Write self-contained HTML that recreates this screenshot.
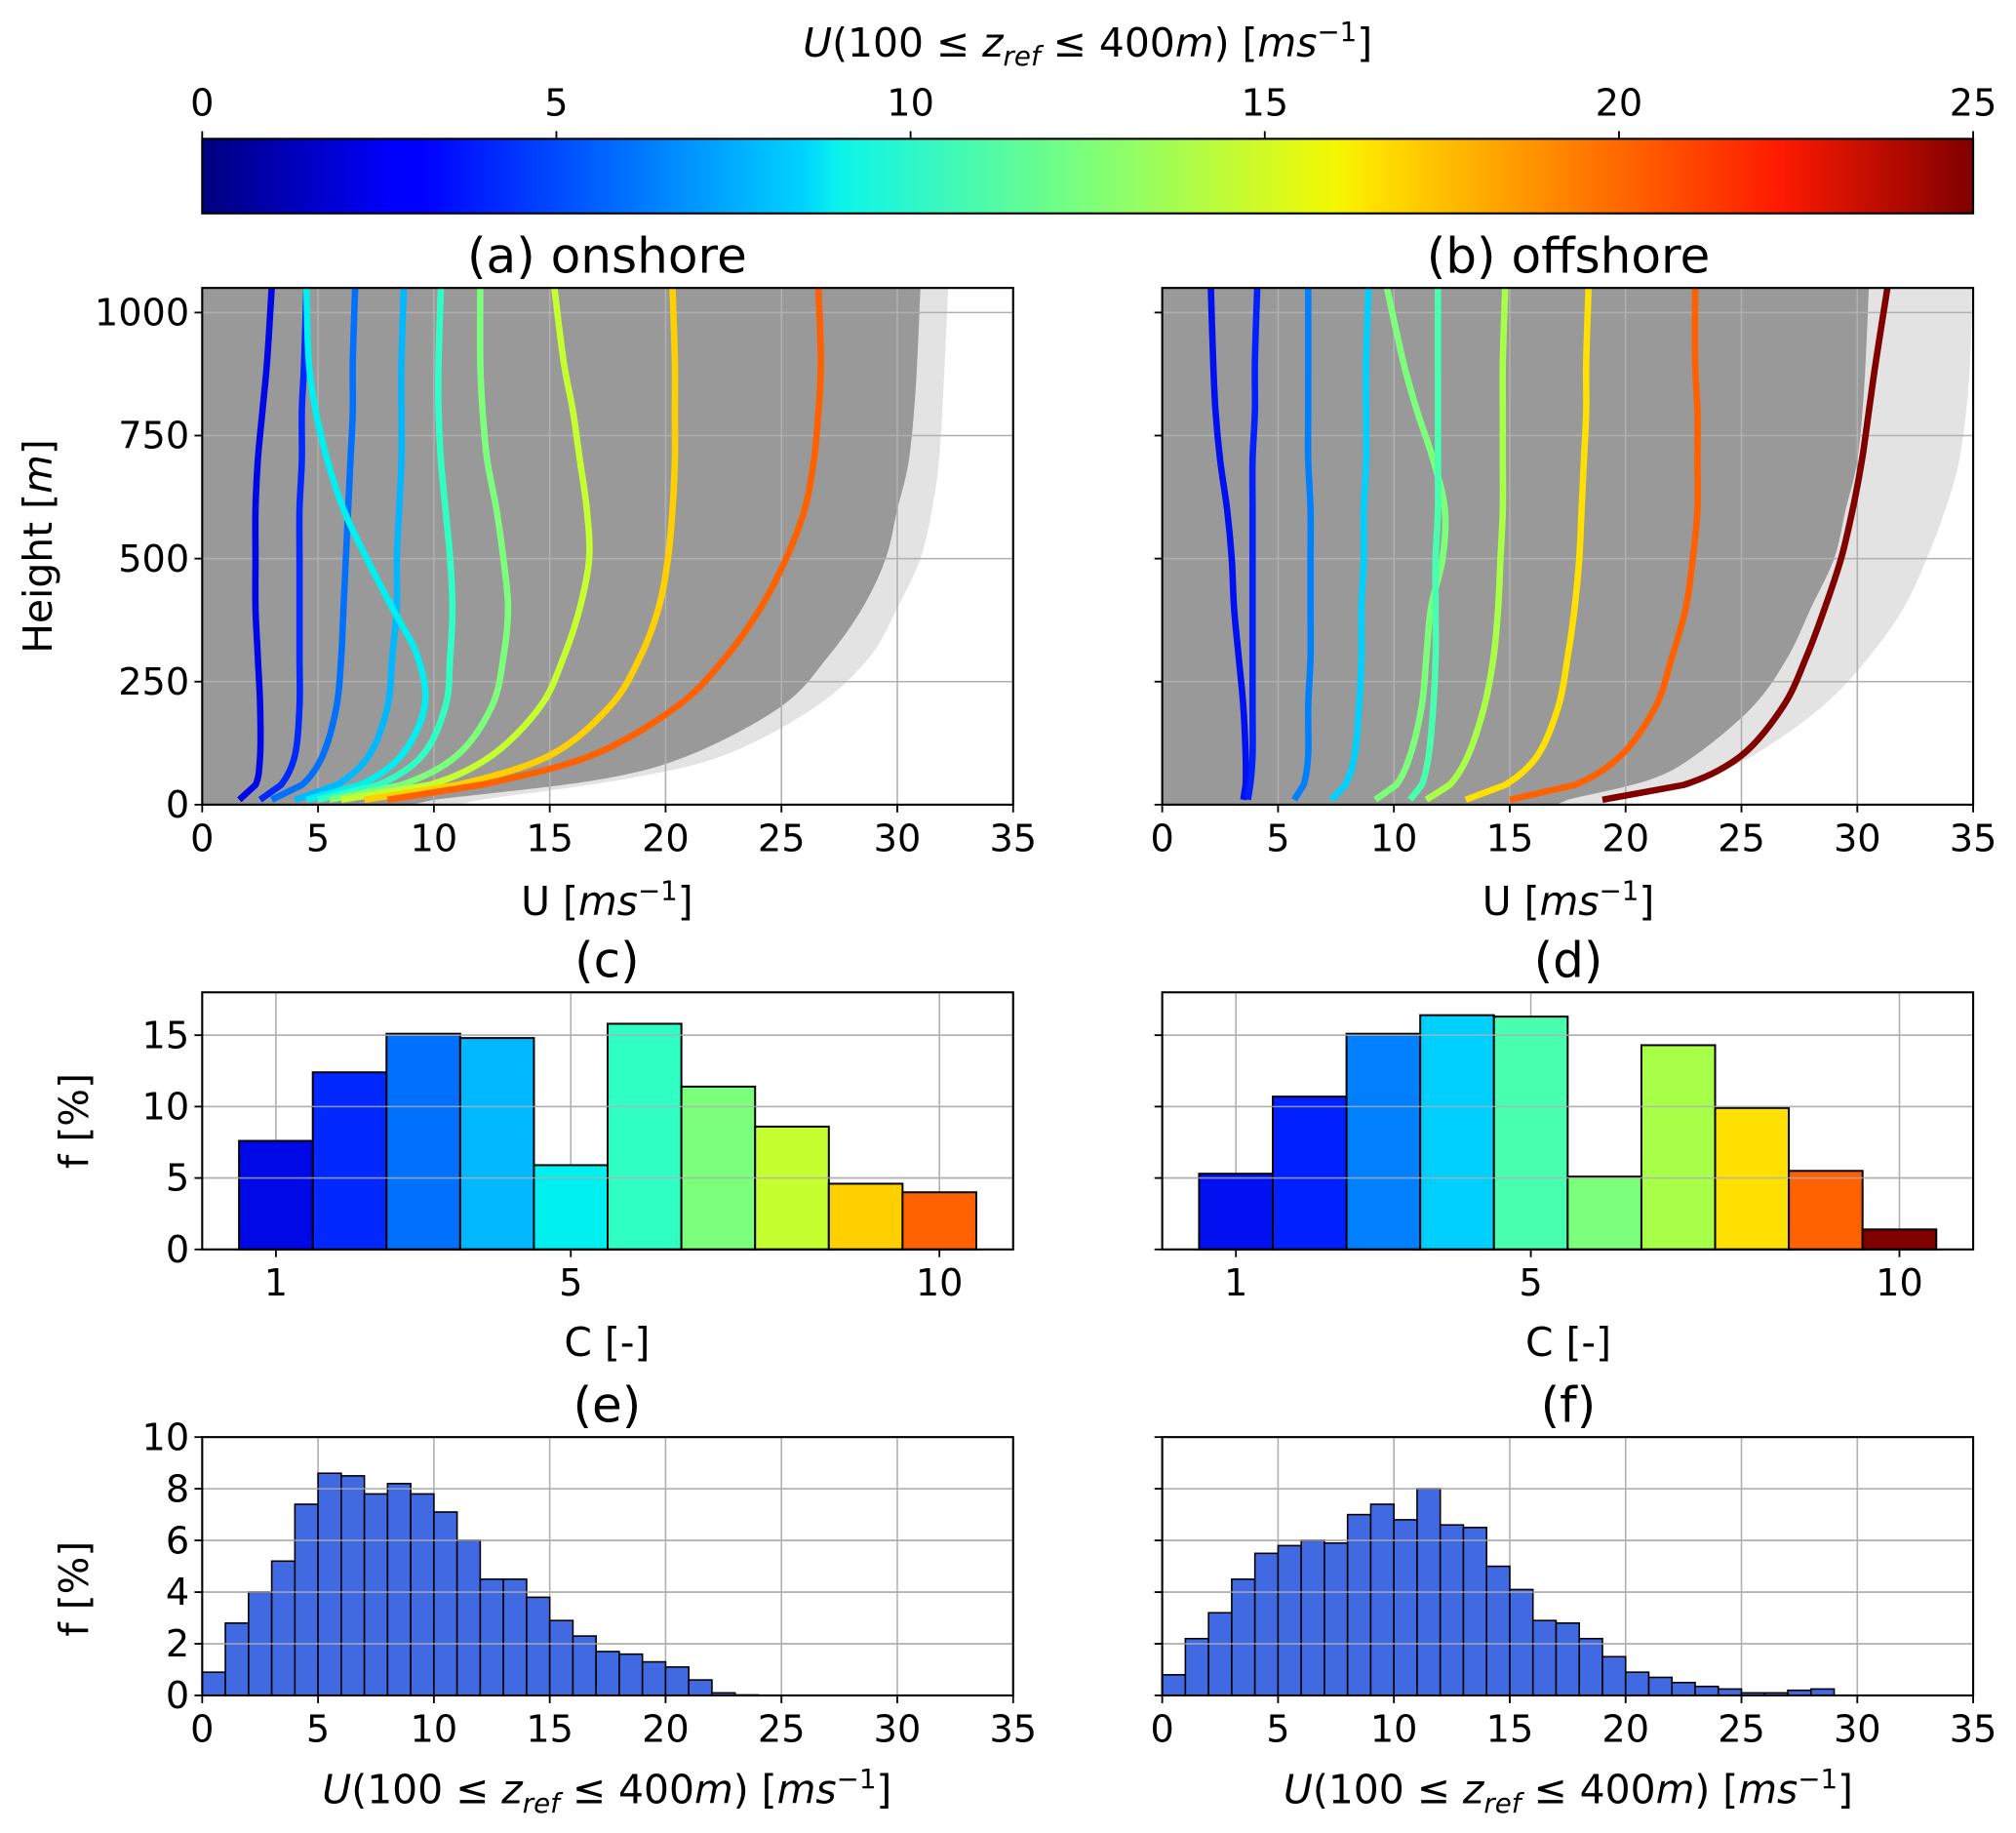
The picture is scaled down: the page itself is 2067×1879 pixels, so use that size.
<!DOCTYPE html>
<html><head><meta charset="utf-8">
<style>
html,body{margin:0;padding:0;background:#fff;}
svg{display:block;font-family:"DejaVu Sans","Liberation Sans",sans-serif;}
</style></head>
<body>
<svg id="fig" width="2067" height="1879" viewBox="0 0 1568 1426" xmlns="http://www.w3.org/2000/svg">
<defs>
<linearGradient id="jet" x1="0" x2="1" y1="0" y2="0">
<stop offset="0" stop-color="#00007f"/><stop offset="0.11" stop-color="#0000ff"/><stop offset="0.125" stop-color="#0000ff"/>
<stop offset="0.34" stop-color="#00d4ff"/><stop offset="0.36" stop-color="#0cf4eb"/><stop offset="0.5" stop-color="#7dff7a"/>
<stop offset="0.64" stop-color="#f4f802"/><stop offset="0.66" stop-color="#ffe200"/><stop offset="0.89" stop-color="#ff1a00"/><stop offset="1" stop-color="#7f0000"/>
</linearGradient>
<clipPath id="clipA"><rect x="157" y="224" width="631" height="402"/></clipPath>
<clipPath id="clipB"><rect x="904" y="224" width="631" height="402"/></clipPath>
</defs>
<g id="root"></g>
</svg>
<script>
// ---------- data ----------
const cbTicks = [0,5,10,15,20,25];
const profHeights = [10,40,100,200,300,400,500,600,700,800,900,1050];
const onshoreProfiles = [
 [1.6,2.3,2.5,2.5,2.4,2.3,2.3,2.3,2.4,2.6,2.8,3.0],
 [2.5,3.4,4.0,4.2,4.2,4.2,4.2,4.2,4.3,4.3,4.4,4.5],
 [3.0,4.3,5.2,5.8,6.0,6.1,6.2,6.3,6.4,6.5,6.5,6.6],
 [4.0,5.8,7.2,8.0,8.2,8.4,8.4,8.5,8.6,8.6,8.6,8.7],
 [4.5,6.8,8.6,9.6,9.3,8.2,7.1,6.1,5.4,4.9,4.6,4.5],
 [5.0,7.6,9.5,10.5,10.7,10.8,10.7,10.5,10.3,10.2,10.2,10.3],
 [5.5,8.6,11.0,12.5,13.0,13.2,13.0,12.7,12.3,12.1,12.0,12.0],
 [6.0,9.8,12.5,14.6,15.6,16.3,16.7,16.6,16.3,16.0,15.6,15.2],
 [7.0,11.0,15.0,17.6,18.9,19.7,20.1,20.3,20.4,20.4,20.4,20.3],
 [8.0,12.0,16.8,20.5,22.6,24.1,25.2,26.0,26.4,26.6,26.7,26.6]];
const onshoreLineColors = ["#0008e6","#0028ff","#0070ff","#00b8ff","#00f0f0","#30ffc4","#7cff7a","#c6ff30","#ffd000","#ff6000"];
const offshoreProfiles = [
 [3.5,3.6,3.6,3.5,3.3,3.1,3.0,2.8,2.5,2.3,2.2,2.1],
 [3.7,3.8,3.9,3.9,3.9,3.9,3.9,3.9,3.9,4.0,4.0,4.1],
 [5.7,6.1,6.3,6.3,6.4,6.4,6.4,6.4,6.3,6.3,6.3,6.3],
 [7.3,7.9,8.3,8.5,8.6,8.6,8.7,8.7,8.8,8.8,8.8,8.9],
 [9.2,10.1,10.7,11.2,11.4,11.6,12.1,12.2,11.7,11.0,10.4,9.7],
 [10.7,11.2,11.5,11.7,11.8,11.8,11.8,11.9,11.9,11.9,11.9,11.9],
 [11.4,12.4,13.2,13.9,14.3,14.5,14.6,14.7,14.7,14.7,14.7,14.8],
 [13.1,14.8,16.2,17.1,17.5,17.8,18.0,18.1,18.2,18.3,18.3,18.4],
 [15.0,17.8,19.8,21.3,22.0,22.6,22.9,23.1,23.1,23.1,23.0,23.0],
 [19.0,22.5,25.0,26.8,27.8,28.6,29.3,29.8,30.2,30.5,30.8,31.3]];
const offshoreLineColors = ["#0010f0","#0020ff","#0080ff","#00d0ff","#7cff7a","#48ffb0","#a8ff48","#ffe000","#ff6000","#800000"];
const envHeights = [0,10,50,100,200,300,400,500,600,700,850,1050];
const onshoreEnvRight = [9,10,17,21,25,27,28.5,29.5,30,30.5,30.8,31];
const onshoreFringe = [11,12,18,22.5,26.5,28.8,30,31,31.5,31.8,32,32.2];
const offshoreEnvRight = [17,17.5,21,23,25.5,27,28,29,29.5,30,30.3,30.5];
const offshoreFringe = [19,19.5,23,25.5,28.5,30.5,32,33,33.8,34.4,34.8,35];
const cCats = [1,2,3,4,5,6,7,8,9,10];
const cOnshore = [7.6,12.4,15.1,14.8,5.9,15.8,11.4,8.6,4.6,4.0];
const cOnshoreColors = ["#0008e6","#0028ff","#0070ff","#00b8ff","#00f0f0","#30ffc4","#7cff7a","#c6ff30","#ffd000","#ff6000"];
const cOffshore = [5.3,10.7,15.1,16.4,16.3,5.1,14.3,9.9,5.5,1.4];
const cOffshoreColors = ["#0010f0","#0020ff","#0080ff","#00d0ff","#48ffb0","#7cff7a","#a8ff48","#ffe000","#ff6000","#800000"];
const uOnshore = [0.9,2.8,4.0,5.2,7.4,8.6,8.5,7.8,8.2,7.8,7.1,6.0,4.5,4.5,3.8,2.9,2.3,1.7,1.6,1.3,1.1,0.6,0.1,0.02,0,0,0,0,0,0,0,0,0,0,0];
const uOffshore = [0.8,2.2,3.2,4.5,5.5,5.8,6.0,5.9,7.0,7.4,6.8,8.0,6.6,6.5,5.0,4.1,2.9,2.8,2.2,1.5,0.9,0.7,0.5,0.35,0.25,0.1,0.1,0.2,0.25,0,0,0,0,0,0];
const uTicks = [0,5,10,15,20,25,30,35];
const hTicks = [0,250,500,750,1000];
const cTicks = [1,5,10];
const fTicksC = [0,5,10,15];
const fTicksU = [0,2,4,6,8,10];

// ---------- helpers ----------
const NS="http://www.w3.org/2000/svg";
const root=document.getElementById('root');
function el(tag,attrs,parent,text){const e=document.createElementNS(NS,tag);for(const k in attrs)e.setAttribute(k,attrs[k]);if(text!==undefined)e.textContent=text;(parent||root).appendChild(e);return e;}
function scale(d0,d1,r0,r1){return v=>r0+(v-d0)/(d1-d0)*(r1-r0);}
function smoothPath(P){ // catmull-rom; first segment straight
 let d=`M${P[0][0]},${P[0][1]} L${P[1][0]},${P[1][1]}`;
 for(let i=1;i<P.length-1;i++){
  const p0=P[i-1],p1=P[i],p2=P[i+1],p3=P[Math.min(i+2,P.length-1)];
  const c1=[p1[0]+(p2[0]-p0[0])/6,p1[1]+(p2[1]-p0[1])/6];
  const c2=[p2[0]-(p3[0]-p1[0])/6,p2[1]-(p3[1]-p1[1])/6];
  d+=` C${c1[0]},${c1[1]} ${c2[0]},${c2[1]} ${p2[0]},${p2[1]}`;
 }
 return d;
}
const TF=29;

function axesFrame(x0,y0,w,h){
 const r=el('rect',{x:x0,y:y0,width:w,height:h,fill:'none',stroke:'#000','stroke-width':1.6});
 
 
}
function grid(g,sx,sy,xt,yt,x0,y0,w,h){
 xt.forEach(v=>{el('line',{x1:sx(v),x2:sx(v),y1:y0,y2:y0+h,stroke:'#b0b0b0','stroke-width':1.2},g);});
 yt.forEach(v=>{el('line',{x1:x0,x2:x0+w,y1:sy(v),y2:sy(v),stroke:'#b0b0b0','stroke-width':1.2},g);});
}
function xTicks(sx,ticks,y,name){
 ticks.forEach(v=>{el('line',{x1:sx(v),x2:sx(v),y1:y,y2:y+6,stroke:'#000','stroke-width':1.4});
  const t=el('text',{x:sx(v),y:y+36,'text-anchor':'middle','font-size':TF},root,String(v));
  
  });
}
function yTicks(sy,ticks,x,name,labels){
 ticks.forEach(v=>{el('line',{x1:x-6,x2:x,y1:sy(v),y2:sy(v),stroke:'#000','stroke-width':1.4});
  if(labels){const t=el('text',{x:x-10,y:sy(v)+10,'text-anchor':'end','font-size':TF},root,String(v));
  
  }});
}
function title(x,y,txt,name){const t=el('text',{x:x,y:y,'text-anchor':'middle','font-size':38},root,txt);
 
 return t;}
function uLabel(x,y,name){
 const t=el('text',{x:x,y:y,'text-anchor':'middle','font-size':31},root);
 t.innerHTML='U [<tspan font-style="italic">ms</tspan><tspan dy="-12" font-size="21">−1</tspan><tspan dy="12">]</tspan>';
 
 }
function zLabel(x,y,name,big){
 const t=el('text',{x:x,y:y,'text-anchor':'middle','font-size':31},root);
 t.innerHTML='<tspan font-style="italic">U</tspan>(100 ≤ <tspan font-style="italic">z</tspan><tspan font-style="italic" font-size="21" dy="7">ref</tspan><tspan dy="-7"> ≤ 400</tspan><tspan font-style="italic">m</tspan>)'+(big?'  ':' ')+'[<tspan font-style="italic">ms</tspan><tspan dy="-12" font-size="21">−1</tspan><tspan dy="12">]</tspan>';
 
 }

// ---------- colorbar ----------
const cbx=scale(0,25,157,1535);
const cbRect=el('rect',{x:157,y:108,width:1378,height:58,fill:'url(#jet)',stroke:'#000','stroke-width':1.6});


cbTicks.forEach(v=>{el('line',{x1:cbx(v),x2:cbx(v),y1:102,y2:108,stroke:'#000','stroke-width':1.4});
 const t=el('text',{x:cbx(v),y:90,'text-anchor':'middle','font-size':TF},root,String(v));
 
 });
zLabel(846,44,'colorbar-title',false);

// ---------- profile panels ----------
function profilePanel(x0,profiles,colors,envR,fringe,clip,letter,showY){
 const y0=224,w=631,h=402;
 const sx=scale(0,35,x0,x0+w), sy=scale(0,1050,y0+h,y0);
 const g=el('g',{'clip-path':`url(#${clip})`});
 
 
 let P=envHeights.map((z,i)=>[sx(fringe[i]),sy(z)]);
 const fr=el('path',{d:`M${sx(0)},${sy(1050)} L${sx(0)},${sy(0)} `+smoothPath(P).replace('M','L')+` L${sx(fringe[fringe.length-1])},${sy(1050)} Z`,fill:'#e3e3e3'},g);
 
 
 P=envHeights.map((z,i)=>[sx(envR[i]),sy(z)]);
 const env=el('path',{d:`M${sx(0)},${sy(1050)} L${sx(0)},${sy(0)} `+smoothPath(P).replace('M','L')+` L${sx(envR[envR.length-1])},${sy(1050)} Z`,fill:'#999999'},g);
 
 
 grid(g,sx,sy,uTicks,hTicks,x0,y0,w,h);
 profiles.forEach((p,k)=>{
  const pts=p.map((u,i)=>[sx(u),sy(profHeights[i])]);
  const l=el('path',{d:smoothPath(pts),fill:'none',stroke:colors[k],'stroke-width':5,'stroke-linejoin':'round'},g);
  
  
 });
 axesFrame(x0,y0,w,h);
 xTicks(sx,uTicks,y0+h,letter+'-x');
 yTicks(sy,hTicks,x0,letter+'-y',showY);
}
profilePanel(157,onshoreProfiles,onshoreLineColors,onshoreEnvRight,onshoreFringe,'clipA','a',true);
profilePanel(904,offshoreProfiles,offshoreLineColors,offshoreEnvRight,offshoreFringe,'clipB','b',false);
title(472,212,'(a) onshore','panel-a-title');
title(1220,212,'(b) offshore','panel-b-title');
uLabel(472,712,'panel-a-x-label');
uLabel(1220,712,'panel-b-x-label');
const hl=el('text',{x:0,y:0,'text-anchor':'middle','font-size':31,transform:'translate(40,425) rotate(-90)'},root);
hl.innerHTML='Height [<tspan font-style="italic">m</tspan>]';



// ---------- C histograms ----------
function cPanel(x0,vals,cols,letter,showY){
 const y0=772,w=631,h=200;
 const sx=scale(0,11,x0,x0+w), sy=scale(0,18,y0+h,y0);
 const g=el('g',{});
 
 
 grid(g,sx,sy,cTicks,fTicksC,x0,y0,w,h);
 cCats.forEach((c,i)=>{
  const b=el('rect',{x:sx(c-0.5),y:sy(vals[i]),width:sx(c+0.5)-sx(c-0.5),height:sy(0)-sy(vals[i]),fill:cols[i],stroke:'#000','stroke-width':1.5},g);
  
  
 });
 fTicksC.slice(1).forEach(v=>el('line',{x1:x0,x2:x0+w,y1:sy(v),y2:sy(v),stroke:'#b0b0b0','stroke-width':1.2,opacity:0.8},g));
 axesFrame(x0,y0,w,h);
 xTicks(sx,cTicks,y0+h,letter+'-x');
 yTicks(sy,fTicksC,x0,letter+'-y',showY);
}
cPanel(157,cOnshore,cOnshoreColors,'c',true);
cPanel(904,cOffshore,cOffshoreColors,'d',false);
title(472,760,'(c)','panel-c-title');
title(1220,760,'(d)','panel-d-title');
[[472,'panel-c-x-label'],[1220,'panel-d-x-label']].forEach(a=>{const t=el('text',{x:a[0],y:1055,'text-anchor':'middle','font-size':31,'xml:space':'preserve'},root,'C  [-]');
 
 });

// ---------- U histograms ----------
function uPanel(x0,vals,letter,showY){
 const y0=1118,w=631,h=201;
 const sx=scale(0,35,x0,x0+w), sy=scale(0,10,y0+h,y0);
 const g=el('g',{});
 
 
 grid(g,sx,sy,uTicks,fTicksU,x0,y0,w,h);
 vals.forEach((v,i)=>{
  const b=el('rect',{x:sx(i),y:sy(v),width:sx(i+1)-sx(i),height:sy(0)-sy(v),fill:'#4169e1',stroke:'#000','stroke-width':1.2},g);
  
  
 });
 fTicksU.slice(1).forEach(v=>el('line',{x1:x0,x2:x0+w,y1:sy(v),y2:sy(v),stroke:'#b0b0b0','stroke-width':1.2,opacity:0.8},g));
 axesFrame(x0,y0,w,h);
 xTicks(sx,uTicks,y0+h,letter+'-x');
 yTicks(sy,fTicksU,x0,letter+'-y',showY);
}
uPanel(157,uOnshore,'e',true);
uPanel(904,uOffshore,'f',false);
title(472,1106,'(e)','panel-e-title');
title(1220,1106,'(f)','panel-f-title');
zLabel(472,1403,'panel-e-x-label',true);
zLabel(1220,1403,'panel-f-x-label',true);
[[872,'f-axis-title-c'],[1236,'f-axis-title-e']].forEach(a=>{
 const t=el('text',{x:0,y:0,'text-anchor':'middle','font-size':31,transform:`translate(68,${a[0]}) rotate(-90)`},root,'f [%]');
 
 });
</script>
</body></html>
